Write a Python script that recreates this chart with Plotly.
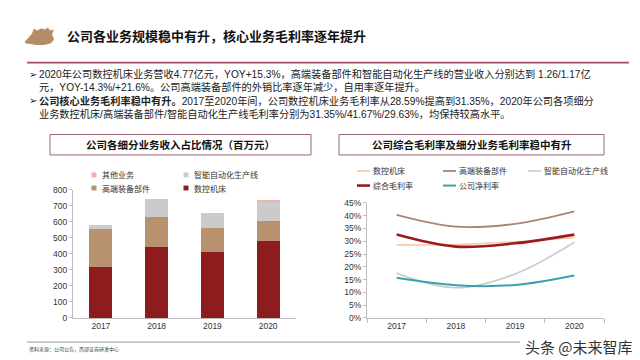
import plotly.graph_objects as go

# ---------------- data ----------------
years = ["2017", "2018", "2019", "2020"]
rev_cnc = [318, 445, 410, 477]          # 数控机床
rev_parts = [237, 187, 149, 126]        # 高端装备部件
rev_auto = [25, 107, 97, 117]           # 智能自动化生产线
rev_other = [0, 0, 0, 17]               # 其他业务

gm_cnc = [0.2859, 0.287, 0.298, 0.3135]     # 数控机床
gm_parts = [0.403, 0.357, 0.368, 0.4167]    # 高端装备部件
gm_auto = [0.175, 0.118, 0.172, 0.2963]     # 智能自动化生产线
gm_total = [0.326, 0.279, 0.292, 0.326]     # 综合毛利率
net_margin = [0.157, 0.128, 0.129, 0.166]   # 公司净利率

bar_names = ["数控机床", "高端装备部件", "智能自动化生产线", "其他业务"]
bar_colors = ["#8e1b1d", "#b8916e", "#cbcbcb", "#f2b1a6"]
line_names = ["数控机床", "高端装备部件", "智能自动化生产线", "综合毛利率", "公司净利率"]
line_colors = ["#f6c9a3", "#a88673", "#c9c9d0", "#9b1a1f", "#3c9fb0"]
line_widths = [1.6, 1.8, 1.6, 2.6, 2.0]

W, H = 640, 360
def X(px):
    return px / W
def Y(py):
    return 1 - py / H

FONT = "Liberation Sans, Arial, Noto Sans CJK SC, sans-serif"
CJK = "Noto Sans CJK SC, sans-serif"

fig = go.Figure()

for vals, name, col in zip([rev_cnc, rev_parts, rev_auto, rev_other], bar_names, bar_colors):
    fig.add_trace(go.Bar(x=years, y=vals, name=name, marker_color=col,
                         marker_line_width=0, width=0.41, showlegend=False,
                         xaxis="x", yaxis="y"))

for vals, name, col, lw in zip([gm_cnc, gm_parts, gm_auto, gm_total, net_margin],
                               line_names, line_colors, line_widths):
    fig.add_trace(go.Scatter(x=years, y=vals, name=name, mode="lines",
                             line=dict(color=col, width=lw, shape="spline", smoothing=1),
                             showlegend=False, xaxis="x2", yaxis="y2"))

shapes = []
ann = []

# title icon (blob)
pts = [(17, 29), (21, 25), (24, 21), (26, 16), (29, 18), (33, 16), (37, 17),
       (40, 15), (42, 18), (46, 17), (44, 22), (46, 27), (43, 31), (36, 33),
       (28, 33), (22, 32), (17, 31)]
path = "M " + " L ".join(f"{X(a):.4f},{Y(b):.4f}" for a, b in pts) + " Z"
shapes.append(dict(type="path", xref="paper", yref="paper", path=path,
                   fillcolor="#b48d66", line=dict(width=0)))

ann.append(dict(x=X(57), y=Y(23), xref="paper", yref="paper", xanchor="left", yanchor="middle",
                text="<b>公司各业务规模稳中有升，核心业务毛利率逐年提升</b>", showarrow=False,
                font=dict(family=CJK, size=13, color="#111111")))

# red divider
shapes.append(dict(type="line", xref="paper", yref="paper", x0=X(19), x1=X(621), y0=Y(51), y1=Y(51),
                   line=dict(color="#a24d5c", width=1.6)))

# bullet text
lines = [
    (63, True, "2020年公司数控机床业务营收4.77亿元，YOY+15.3%，高端装备部件和智能自动化生产线的营业收入分别达到 1.26/1.17亿"),
    (76.5, False, "元，YOY-14.3%/+21.6%。公司高端装备部件的外销比率逐年减少，自用率逐年提升。"),
    (90, True, "<b>公司核心业务毛利率稳中有升。</b>2017至2020年间，公司数控机床业务毛利率从28.59%提高到31.35%，2020年公司各项细分"),
    (103.5, False, "业务数控机床/高端装备部件/智能自动化生产线毛利率分别为31.35%/41.67%/29.63%，均保持较高水平。"),
]
for yy, bullet, txt in lines:
    if bullet:
        ann.append(dict(x=X(19), y=Y(yy), xref="paper", yref="paper", xanchor="left", yanchor="middle",
                        text="➢", showarrow=False, font=dict(family="DejaVu Sans", size=10, color="#222")))
    ann.append(dict(x=X(29), y=Y(yy), xref="paper", yref="paper", xanchor="left", yanchor="middle",
                    text=txt, showarrow=False, font=dict(family=FONT, size=10.2, color="#222")))

# chart title boxes
for (x0, x1, t) in [(42, 303, "公司各细分业务收入占比情况（百万元）"),
                    (331, 596, "公司综合毛利率及细分业务毛利率稳中有升")]:
    shapes.append(dict(type="rect", xref="paper", yref="paper", x0=X(x0), x1=X(x1), y0=Y(146), y1=Y(125),
                       line=dict(color="#9c6470", width=1), fillcolor="rgba(0,0,0,0)"))
    ann.append(dict(x=X((x0 + x1) / 2), y=Y(135.5), xref="paper", yref="paper", xanchor="center",
                    yanchor="middle", text=f"<b>{t}</b>", showarrow=False,
                    font=dict(family=CJK, size=10.5, color="#111")))

# left legend (manual)
leg_left = [(86, 166.5, 3), (178, 166.5, 2), (86, 180, 1), (178, 180, 0)]
for px, py, i in leg_left:
    shapes.append(dict(type="rect", xref="paper", yref="paper", x0=X(px - 2.5), x1=X(px + 2.5),
                       y0=Y(py + 2.5), y1=Y(py - 2.5), fillcolor=bar_colors[i], line=dict(width=0)))
    ann.append(dict(x=X(px + 6), y=Y(py), xref="paper", yref="paper", xanchor="left", yanchor="middle",
                    text=bar_names[i], showarrow=False, font=dict(family=CJK, size=8, color="#333")))

# right legend (manual)
leg_right = [(349, 162.5, 0), (435, 162.5, 1), (520, 162.5, 2), (349, 177.5, 3), (435, 177.5, 4)]
for px, py, i in leg_right:
    shapes.append(dict(type="line", xref="paper", yref="paper", x0=X(px), x1=X(px + 13),
                       y0=Y(py), y1=Y(py), line=dict(color=line_colors[i], width=line_widths[i])))
    ann.append(dict(x=X(px + 14), y=Y(py), xref="paper", yref="paper", xanchor="left", yanchor="middle",
                    text=line_names[i], showarrow=False, font=dict(family=CJK, size=8, color="#333")))

# footer
shapes.append(dict(type="line", xref="paper", yref="paper", x0=X(19), x1=X(512), y0=Y(338.5), y1=Y(338.5),
                   line=dict(color="#9a9a9a", width=1)))
ann.append(dict(x=X(19), y=Y(346), xref="paper", yref="paper", xanchor="left", yanchor="middle",
                text="资料来源：公司公告，西部证券研发中心", showarrow=False,
                font=dict(family=CJK, size=5, color="#444")))
ann.append(dict(x=X(515), y=Y(343), xref="paper", yref="paper", xanchor="left", yanchor="middle",
                text="头条 @未来智库", showarrow=False,
                font=dict(family=CJK, size=15, color="#333")))

axis_font = dict(family=FONT, size=8.5, color="#333")

fig.update_layout(
    width=W, height=H, margin=dict(l=0, r=0, t=0, b=0),
    paper_bgcolor="white", plot_bgcolor="white",
    barmode="stack", showlegend=False,
    shapes=shapes, annotations=ann,
    xaxis=dict(domain=[X(65), X(288)], type="category", range=[-0.5, 3.5], showline=True,
               linecolor="#bdbdbd", linewidth=1, ticks="", tickfont=axis_font, showgrid=False,
               zeroline=False, anchor="y", fixedrange=True),
    yaxis=dict(domain=[Y(313.7), Y(181.7)], range=[0, 800], dtick=100, showline=True,
               linecolor="#bdbdbd", linewidth=1, ticks="outside", ticklen=3, tickcolor="#bdbdbd",
               tickfont=axis_font, showgrid=False, zeroline=False, anchor="x", fixedrange=True),
    xaxis2=dict(domain=[X(359), X(596)], type="category", range=[-0.5, 3.5], showline=True,
                linecolor="#bdbdbd", linewidth=1, ticks="outside", tickson="boundaries", ticklen=4,
                tickcolor="#bdbdbd", tickfont=axis_font, showgrid=False, zeroline=False,
                anchor="y2", fixedrange=True),
    yaxis2=dict(domain=[Y(313.7), Y(195.3)], range=[0, 0.45], dtick=0.05, tickformat=".0%",
                showline=True, linecolor="#bdbdbd", linewidth=1, ticks="outside", ticklen=3,
                tickcolor="#bdbdbd", tickfont=axis_font, showgrid=False, zeroline=False,
                anchor="x2", fixedrange=True),
)

fig.write_html("out.html", config=dict(displayModeBar=False))
